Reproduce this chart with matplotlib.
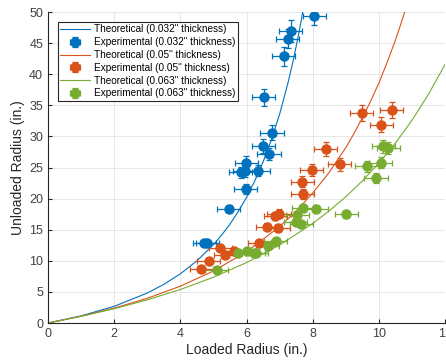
import matplotlib
matplotlib.use("Agg")
import matplotlib.pyplot as plt

plt.rcParams['font.family'] = ['Liberation Sans', 'DejaVu Sans']

# theoretical curves
theo_x_032 = [0, 1, 2, 3, 3.5, 4, 4.5, 5, 5.25, 5.5, 5.75, 6, 6.25, 6.5, 6.75,
              7, 7.25, 7.4, 7.5, 7.6, 7.75]
theo_y_032 = [0, 1.15, 2.68, 4.82, 6.21, 7.91, 9.99, 12.6, 14.16, 15.9, 17.93,
              20.2, 22.86, 25.9, 29.46, 33.6, 38.57, 41.96, 44.5, 47.12, 51.6]
theo_x_050 = [0, 1, 2, 3, 4, 5, 6, 7, 7.5, 8, 8.5, 9, 9.25, 9.5, 9.75, 10,
              10.25, 10.5, 10.7, 10.9]
theo_y_050 = [0, 1.09, 2.39, 3.97, 5.92, 8.36, 11.46, 15.5, 17.99, 20.9, 24.25,
              28.2, 30.49, 33.0, 35.67, 38.6, 41.92, 45.5, 48.69, 52.1]
theo_x_063 = [0, 1, 2, 3, 4, 5, 6, 7, 8, 8.5, 9, 9.5, 10, 10.5, 11, 11.5, 12]
theo_y_063 = [0, 1.07, 2.30, 3.72, 5.39, 7.36, 9.72, 12.55, 16.0, 18.05, 20.3,
              22.85, 25.7, 28.94, 32.6, 36.8, 41.6]

# experimental points
exp_x_032 = [8.05, 7.33, 7.24, 7.12, 6.52, 6.77, 6.50, 6.68, 5.99, 5.82, 5.94, 6.35, 5.97, 5.46, 4.72, 4.82]
exp_y_032 = [49.3, 46.9, 45.7, 42.9, 36.3, 30.6, 28.5, 27.2, 25.8, 24.2, 24.4, 24.5, 21.6, 18.4, 12.8, 12.8]
exp_ye_032 = [1.4, 1.8, 1.5, 1.5, 1.4, 1.2, 1.1, 1.0, 1.0, 0.9, 0.9, 0.9, 0.8, 0.6, 0.4, 0.4]

exp_x_050 = [9.48, 10.39, 10.07, 8.39, 8.82, 7.97, 7.69, 7.70, 6.98, 6.87, 6.63, 6.95, 6.38, 5.21, 5.62, 5.36, 4.86, 4.63]
exp_y_050 = [33.8, 34.2, 31.9, 28.0, 25.5, 24.6, 22.7, 20.8, 17.6, 17.2, 15.5, 15.3, 12.8, 12.0, 11.5, 11.0, 10.0, 8.7]
exp_ye_050 = [1.3, 1.3, 1.2, 1.1, 1.0, 1.0, 0.9, 0.8, 0.7, 0.7, 0.6, 0.6, 0.5, 0.5, 0.5, 0.5, 0.4, 0.4]

exp_x_063 = [10.13, 10.28, 10.06, 9.64, 9.91, 9.01, 8.11, 7.71, 7.53, 7.48, 7.66, 6.88, 6.64, 6.30, 6.22, 6.02, 5.73, 5.10]
exp_y_063 = [28.4, 28.1, 25.8, 25.2, 23.3, 17.5, 18.4, 18.5, 17.4, 16.3, 15.9, 13.2, 12.4, 11.2, 11.2, 11.5, 11.2, 8.5]
exp_ye_063 = [1.0, 1.0, 0.9, 0.9, 0.8, 0.6, 0.6, 0.6, 0.6, 0.5, 0.5, 0.5, 0.4, 0.4, 0.4, 0.4, 0.4, 0.3]

x_err = 0.35

blue, orange, green = "#0072BD", "#D95319", "#77AC30"

fig = plt.figure(figsize=(4.46, 3.64), dpi=100)
ax = fig.add_axes([0.1076, 0.1126, 0.8904, 0.8544])

series = [
    (theo_x_032, theo_y_032, exp_x_032, exp_y_032, exp_ye_032, blue, '0.032"'),
    (theo_x_050, theo_y_050, exp_x_050, exp_y_050, exp_ye_050, orange, '0.05"'),
    (theo_x_063, theo_y_063, exp_x_063, exp_y_063, exp_ye_063, green, '0.063"'),
]
handles, labels = [], []
for tx, ty, ex, ey, eye, c, lab in series:
    ln, = ax.plot(tx, ty, color=c, lw=0.8)
    eb = ax.errorbar(ex, ey, xerr=x_err, yerr=eye, fmt="o", color=c, ms=6.5,
                     elinewidth=0.9, capsize=2.5, capthick=0.9)
    handles += [ln, eb]
    labels += [f"Theoretical ({lab} thickness)", f"Experimental ({lab} thickness)"]

ax.set_xlim(0, 12)
ax.set_ylim(0, 50)
ax.set_xticks(range(0, 13, 2))
ax.set_yticks(range(0, 51, 5))
ax.grid(True, color="#e3e3e3", lw=0.6)
ax.set_axisbelow(True)
for s in ["top", "right"]:
    ax.spines[s].set_visible(False)
for s in ["left", "bottom"]:
    ax.spines[s].set_color("#262626")
    ax.spines[s].set_linewidth(0.8)
ax.tick_params(direction="in", length=3, labelsize=9, colors="#262626",
               labelcolor="#404040")
ax.set_xlabel("Loaded Radius (in.)", fontsize=10, color="#262626", labelpad=2)
ax.set_ylabel("Unloaded Radius (in.)", fontsize=10, color="#262626", labelpad=3)

leg = ax.legend(handles, labels, loc="upper left", bbox_to_anchor=(0.025, 0.968),
                fontsize=7.2, frameon=True, fancybox=False, edgecolor="#262626",
                framealpha=1, borderpad=0.25, labelspacing=0.28,
                handlelength=3.0, handletextpad=0.4, borderaxespad=0)
leg.get_frame().set_linewidth(0.8)

fig.savefig("out.png", dpi=100)
